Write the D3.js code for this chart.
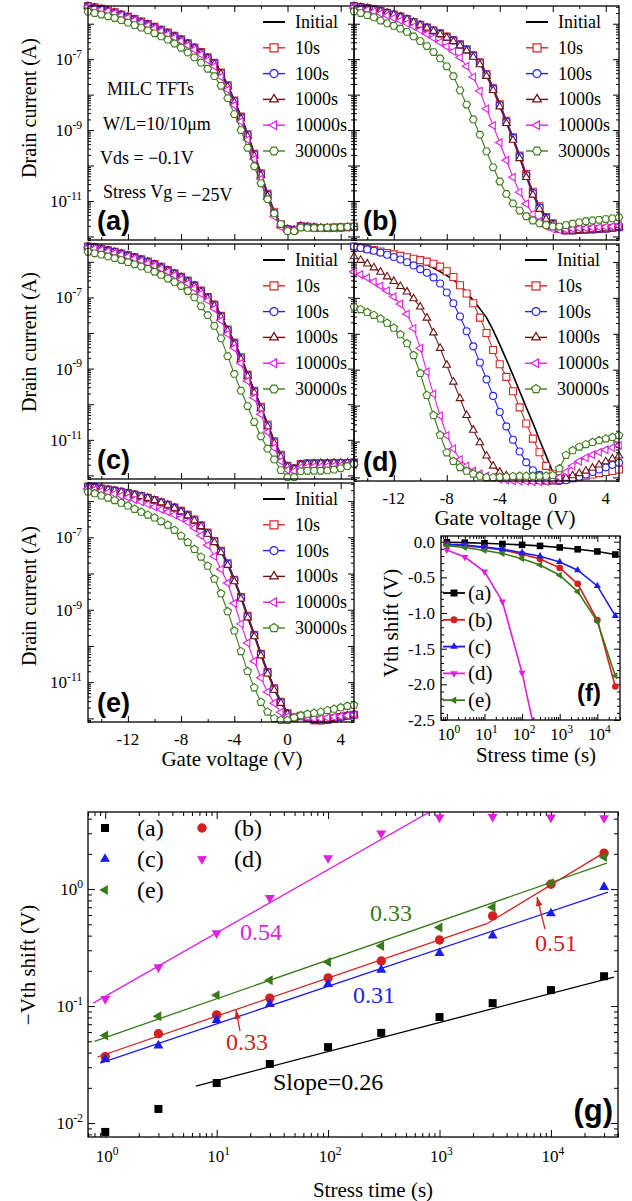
<!DOCTYPE html>
<html>
<head>
<meta charset="utf-8">
<script src="https://cdn.jsdelivr.net/npm/d3@7"></script>
<style>
  body { margin: 0; background: #fff; }
</style>
</head>
<body>
<svg id="fig" width="632" height="1201" font-family='"Liberation Serif","Times New Roman",serif'></svg>
<script>
// gate voltage sweep (V)
const vg = [-15,-14.5,-14,-13.5,-13,-12.5,-12,-11.5,-11,-10.5,-10,-9.5,-9,-8.5,-8,-7.5,-7,-6.5,-6,-5.5,-5,-4.5,-4,-3.5,-3,-2.5,-2,-1.5,-1,-0.5,0,0.5,1,1.5,2,2.5,3,3.5,4,4.5,5];
const legendNames = ['Initial', '10s', '100s', '1000s', '10000s', '30000s'];

// log10(drain current / A)
const a_init = [-5.50,-5.54,-5.58,-5.63,-5.68,-5.74,-5.81,-5.88,-5.95,-6.02,-6.09,-6.17,-6.25,-6.34,-6.44,-6.55,-6.67,-6.80,-6.94,-7.08,-7.36,-7.72,-8.15,-8.60,-9.10,-9.65,-10.20,-10.78,-11.30,-11.65,-11.78,-11.82,-11.70,-11.72,-11.75,-11.76,-11.76,-11.76,-11.75,-11.74,-11.73];
const a_10 = [-5.50,-5.54,-5.58,-5.63,-5.68,-5.74,-5.80,-5.87,-5.94,-6.01,-6.09,-6.17,-6.25,-6.34,-6.44,-6.55,-6.67,-6.80,-6.95,-7.10,-7.38,-7.74,-8.17,-8.62,-9.12,-9.67,-10.22,-10.80,-11.32,-11.66,-11.79,-11.82,-11.71,-11.73,-11.75,-11.76,-11.76,-11.75,-11.75,-11.74,-11.73];
const a_100 = [-5.51,-5.55,-5.59,-5.64,-5.69,-5.75,-5.81,-5.88,-5.95,-6.02,-6.10,-6.18,-6.26,-6.35,-6.45,-6.56,-6.68,-6.81,-6.96,-7.11,-7.39,-7.75,-8.18,-8.64,-9.14,-9.69,-10.24,-10.82,-11.34,-11.67,-11.79,-11.82,-11.71,-11.73,-11.75,-11.76,-11.76,-11.76,-11.75,-11.74,-11.73];
const a_1000 = [-5.51,-5.55,-5.59,-5.64,-5.69,-5.75,-5.82,-5.89,-5.96,-6.03,-6.11,-6.19,-6.27,-6.36,-6.46,-6.57,-6.69,-6.83,-6.98,-7.14,-7.42,-7.78,-8.22,-8.68,-9.18,-9.73,-10.28,-10.86,-11.37,-11.69,-11.80,-11.82,-11.71,-11.73,-11.75,-11.76,-11.76,-11.76,-11.75,-11.74,-11.73];
const a_10000 = [-5.52,-5.56,-5.60,-5.65,-5.70,-5.76,-5.83,-5.90,-5.97,-6.05,-6.13,-6.21,-6.30,-6.39,-6.49,-6.61,-6.73,-6.87,-7.03,-7.20,-7.50,-7.86,-8.30,-8.76,-9.27,-9.82,-10.38,-10.95,-11.44,-11.73,-11.82,-11.82,-11.72,-11.73,-11.75,-11.76,-11.76,-11.76,-11.75,-11.74,-11.73];
const a_30000 = [-5.66,-5.70,-5.74,-5.79,-5.84,-5.90,-5.97,-6.04,-6.11,-6.19,-6.27,-6.36,-6.45,-6.56,-6.68,-6.81,-6.95,-7.10,-7.27,-7.48,-7.75,-8.10,-8.55,-9.00,-9.50,-10.02,-10.50,-10.95,-11.35,-11.65,-11.85,-11.85,-11.75,-11.76,-11.76,-11.76,-11.75,-11.75,-11.74,-11.73,-11.72];

const b_init = [-5.50,-5.53,-5.56,-5.60,-5.64,-5.69,-5.74,-5.80,-5.87,-5.95,-6.03,-6.11,-6.19,-6.27,-6.36,-6.45,-6.57,-6.71,-6.88,-7.08,-7.40,-7.80,-8.26,-8.74,-9.20,-9.72,-10.25,-10.75,-11.15,-11.45,-11.62,-11.78,-11.82,-11.82,-11.82,-11.81,-11.80,-11.79,-11.78,-11.76,-11.74];
const b_10 = [-5.50,-5.53,-5.56,-5.60,-5.64,-5.69,-5.74,-5.80,-5.87,-5.95,-6.03,-6.11,-6.19,-6.27,-6.36,-6.46,-6.58,-6.72,-6.89,-7.09,-7.42,-7.82,-8.27,-8.74,-9.20,-9.72,-10.24,-10.74,-11.15,-11.45,-11.63,-11.78,-11.83,-11.83,-11.82,-11.81,-11.80,-11.79,-11.78,-11.76,-11.74];
const b_100 = [-5.50,-5.53,-5.56,-5.60,-5.64,-5.69,-5.74,-5.80,-5.87,-5.95,-6.03,-6.11,-6.19,-6.28,-6.37,-6.47,-6.59,-6.73,-6.90,-7.10,-7.43,-7.83,-8.29,-8.76,-9.22,-9.74,-10.27,-10.77,-11.18,-11.47,-11.64,-11.79,-11.83,-11.83,-11.82,-11.81,-11.80,-11.79,-11.78,-11.76,-11.74];
const b_1000 = [-5.51,-5.54,-5.57,-5.61,-5.65,-5.70,-5.75,-5.81,-5.88,-5.96,-6.04,-6.12,-6.21,-6.30,-6.40,-6.50,-6.62,-6.76,-6.94,-7.15,-7.48,-7.88,-8.34,-8.81,-9.28,-9.80,-10.33,-10.83,-11.23,-11.51,-11.67,-11.80,-11.84,-11.84,-11.83,-11.82,-11.81,-11.80,-11.78,-11.76,-11.74];
const b_10000 = [-5.53,-5.57,-5.61,-5.66,-5.71,-5.77,-5.84,-5.91,-5.99,-6.08,-6.18,-6.29,-6.40,-6.52,-6.64,-6.78,-6.95,-7.20,-7.50,-7.90,-8.40,-8.87,-9.35,-9.85,-10.33,-10.75,-11.08,-11.37,-11.57,-11.72,-11.80,-11.82,-11.80,-11.78,-11.77,-11.76,-11.75,-11.74,-11.73,-11.72,-11.70];
const b_30000 = [-5.65,-5.70,-5.76,-5.82,-5.91,-5.99,-6.06,-6.14,-6.23,-6.36,-6.49,-6.63,-6.80,-6.98,-7.20,-7.48,-7.88,-8.28,-8.70,-9.13,-9.60,-10.05,-10.45,-10.80,-11.07,-11.27,-11.43,-11.55,-11.63,-11.68,-11.72,-11.72,-11.68,-11.64,-11.60,-11.57,-11.55,-11.53,-11.51,-11.49,-11.46];

const c_init = [-5.57,-5.60,-5.64,-5.68,-5.72,-5.77,-5.82,-5.87,-5.93,-5.99,-6.06,-6.14,-6.23,-6.32,-6.42,-6.53,-6.65,-6.80,-6.98,-7.18,-7.50,-7.88,-8.25,-8.65,-9.15,-9.60,-10.05,-10.55,-11.02,-11.40,-11.72,-11.80,-11.68,-11.66,-11.66,-11.66,-11.66,-11.65,-11.65,-11.65,-11.64];
const c_10 = [-5.57,-5.60,-5.64,-5.68,-5.72,-5.77,-5.82,-5.87,-5.93,-5.99,-6.06,-6.14,-6.23,-6.32,-6.42,-6.53,-6.66,-6.81,-6.99,-7.20,-7.52,-7.90,-8.27,-8.68,-9.17,-9.62,-10.07,-10.57,-11.04,-11.42,-11.73,-11.80,-11.68,-11.66,-11.66,-11.66,-11.66,-11.65,-11.65,-11.65,-11.64];
const c_100 = [-5.57,-5.60,-5.64,-5.68,-5.72,-5.77,-5.82,-5.88,-5.94,-6.00,-6.07,-6.15,-6.24,-6.33,-6.43,-6.54,-6.67,-6.82,-7.00,-7.21,-7.53,-7.91,-8.29,-8.70,-9.19,-9.64,-10.09,-10.59,-11.06,-11.44,-11.74,-11.81,-11.69,-11.67,-11.66,-11.66,-11.66,-11.65,-11.65,-11.65,-11.64];
const c_1000 = [-5.58,-5.61,-5.65,-5.69,-5.73,-5.78,-5.83,-5.89,-5.95,-6.01,-6.08,-6.16,-6.25,-6.34,-6.44,-6.56,-6.69,-6.84,-7.03,-7.24,-7.56,-7.94,-8.32,-8.74,-9.22,-9.68,-10.13,-10.63,-11.10,-11.48,-11.76,-11.82,-11.70,-11.68,-11.67,-11.66,-11.66,-11.65,-11.65,-11.65,-11.64];
const c_10000 = [-5.60,-5.63,-5.67,-5.71,-5.75,-5.80,-5.85,-5.91,-5.97,-6.04,-6.11,-6.19,-6.28,-6.38,-6.49,-6.61,-6.74,-6.90,-7.09,-7.32,-7.65,-8.03,-8.42,-8.85,-9.35,-9.82,-10.28,-10.78,-11.22,-11.60,-11.85,-11.88,-11.78,-11.76,-11.75,-11.75,-11.74,-11.73,-11.72,-11.71,-11.70];
const c_30000 = [-5.72,-5.76,-5.80,-5.85,-5.90,-5.95,-6.01,-6.07,-6.13,-6.20,-6.28,-6.37,-6.47,-6.57,-6.68,-6.82,-7.00,-7.25,-7.50,-7.80,-8.15,-8.65,-9.15,-9.62,-10.05,-10.50,-10.90,-11.25,-11.55,-11.85,-12.05,-12.05,-11.88,-11.87,-11.87,-11.87,-11.86,-11.84,-11.80,-11.74,-11.68];

const d_init = [-5.57,-5.60,-5.64,-5.68,-5.72,-5.77,-5.82,-5.86,-5.90,-5.94,-6.00,-6.08,-6.17,-6.27,-6.38,-6.50,-6.64,-6.85,-7.07,-7.30,-7.55,-7.90,-8.30,-8.72,-9.15,-9.60,-10.05,-10.48,-10.95,-11.40,-11.85,-12.03,-12.05,-12.02,-11.98,-11.96,-11.94,-11.92,-11.90,-11.88,-11.86];
const d_10 = [-5.57,-5.60,-5.63,-5.67,-5.71,-5.75,-5.79,-5.83,-5.87,-5.91,-5.95,-5.99,-6.05,-6.13,-6.26,-6.42,-6.65,-6.88,-7.15,-7.55,-7.98,-8.45,-8.85,-9.20,-9.60,-10.05,-10.50,-10.92,-11.30,-11.68,-11.90,-12.02,-12.05,-12.02,-11.98,-11.95,-11.92,-11.88,-11.85,-11.82,-11.78];
const d_100 = [-5.57,-5.61,-5.65,-5.69,-5.74,-5.80,-5.86,-5.93,-6.01,-6.10,-6.20,-6.30,-6.43,-6.60,-6.85,-7.15,-7.52,-7.93,-8.35,-8.80,-9.27,-9.73,-10.18,-10.58,-10.95,-11.28,-11.58,-11.80,-11.93,-12.00,-12.06,-12.10,-12.08,-12.02,-11.98,-11.92,-11.85,-11.78,-11.72,-11.65,-11.59];
const d_1000 = [-5.85,-5.95,-6.05,-6.16,-6.28,-6.41,-6.54,-6.68,-6.83,-7.02,-7.25,-7.56,-7.97,-8.40,-8.87,-9.34,-9.80,-10.27,-10.68,-11.03,-11.40,-11.68,-11.85,-11.95,-12.00,-12.05,-12.08,-12.10,-12.11,-12.12,-12.12,-12.10,-12.02,-11.95,-11.89,-11.82,-11.74,-11.65,-11.56,-11.48,-11.40];
const d_10000 = [-6.27,-6.35,-6.44,-6.55,-6.67,-6.80,-6.97,-7.17,-7.45,-7.85,-8.40,-9.06,-9.68,-10.28,-10.83,-11.20,-11.50,-11.68,-11.82,-11.90,-11.96,-12.00,-12.05,-12.07,-12.09,-12.10,-12.11,-12.12,-12.12,-12.11,-12.08,-12.00,-11.85,-11.68,-11.55,-11.45,-11.37,-11.30,-11.23,-11.17,-11.11];
const d_30000 = [-7.25,-7.32,-7.40,-7.48,-7.58,-7.70,-7.84,-8.02,-8.27,-8.60,-9.10,-9.71,-10.27,-10.82,-11.31,-11.55,-11.72,-11.82,-11.90,-11.96,-12.00,-12.00,-11.99,-11.98,-11.97,-11.96,-11.96,-11.96,-11.96,-11.96,-11.94,-11.75,-11.38,-11.25,-11.15,-11.08,-11.02,-10.97,-10.92,-10.88,-10.83];

const e_init = [-5.60,-5.62,-5.65,-5.68,-5.71,-5.74,-5.78,-5.82,-5.86,-5.91,-5.97,-6.03,-6.10,-6.18,-6.27,-6.38,-6.50,-6.66,-6.86,-7.08,-7.35,-7.70,-8.15,-8.63,-9.15,-9.67,-10.20,-10.70,-11.15,-11.52,-11.85,-11.98,-11.92,-11.98,-12.05,-12.06,-12.04,-12.00,-11.96,-11.93,-11.90];
const e_10 = [-5.60,-5.62,-5.65,-5.68,-5.71,-5.74,-5.78,-5.82,-5.86,-5.91,-5.97,-6.03,-6.10,-6.18,-6.27,-6.38,-6.51,-6.67,-6.87,-7.10,-7.37,-7.72,-8.17,-8.65,-9.17,-9.69,-10.22,-10.72,-11.17,-11.54,-11.86,-11.98,-11.93,-11.99,-12.05,-12.06,-12.04,-12.00,-11.96,-11.93,-11.90];
const e_100 = [-5.60,-5.62,-5.65,-5.68,-5.71,-5.74,-5.78,-5.82,-5.86,-5.91,-5.97,-6.03,-6.10,-6.18,-6.28,-6.39,-6.52,-6.68,-6.88,-7.11,-7.38,-7.73,-8.18,-8.66,-9.18,-9.70,-10.23,-10.73,-11.18,-11.55,-11.87,-11.99,-11.94,-11.99,-12.05,-12.06,-12.04,-12.00,-11.96,-11.93,-11.90];
const e_1000 = [-5.61,-5.63,-5.66,-5.69,-5.72,-5.75,-5.79,-5.83,-5.87,-5.92,-5.98,-6.04,-6.11,-6.19,-6.29,-6.40,-6.54,-6.70,-6.91,-7.14,-7.42,-7.77,-8.22,-8.70,-9.22,-9.74,-10.27,-10.77,-11.22,-11.58,-11.88,-11.99,-11.94,-11.99,-12.05,-12.06,-12.04,-12.00,-11.96,-11.93,-11.90];
const e_10000 = [-5.65,-5.68,-5.72,-5.76,-5.80,-5.85,-5.90,-5.96,-6.02,-6.09,-6.16,-6.23,-6.30,-6.38,-6.47,-6.58,-6.74,-6.95,-7.22,-7.52,-7.88,-8.26,-8.82,-9.39,-9.92,-10.42,-10.88,-11.27,-11.58,-11.83,-11.95,-11.98,-11.95,-11.97,-12.00,-12.00,-11.98,-11.96,-11.94,-11.92,-11.90];
const e_30000 = [-5.74,-5.79,-5.85,-5.91,-5.98,-6.05,-6.13,-6.22,-6.30,-6.38,-6.46,-6.56,-6.66,-6.80,-6.96,-7.14,-7.33,-7.54,-7.79,-8.15,-8.55,-9.05,-9.58,-10.15,-10.70,-11.15,-11.55,-11.82,-12.00,-12.05,-12.05,-11.98,-11.92,-11.88,-11.85,-11.82,-11.78,-11.74,-11.70,-11.66,-11.63];

// threshold voltage shift magnitude (V) vs stress time (s)
const times = [1, 3, 10, 30, 100, 300, 1000, 3000, 10000, 30000];
const dvA = [0.0084, 0.0132, 0.022, 0.032, 0.0446, 0.059, 0.0805, 0.106, 0.137, 0.18];
const dvB = [0.037, 0.058, 0.084, 0.117, 0.174, 0.243, 0.367, 0.59, 1.10, 2.03];
const dvC = [0.035, 0.046, 0.076, 0.104, 0.154, 0.204, 0.284, 0.40, 0.62, 1.04];
const dvD = [0.115, 0.215, 0.42, 0.84, 1.84, 3.0, 4.1, 4.15, 4.1, 4.05];
const dvE = [0.056, 0.082, 0.124, 0.166, 0.238, 0.326, 0.47, 0.70, 1.12, 1.88];
const groupNames = ['(a)', '(b)', '(c)', '(d)', '(e)'];

// power-law fit lines in (g): [time, -dVth] end points
const fitA = [[6.5, 0.0207], [36700, 0.177]];
const fitB1 = [[0.85, 0.0367], [2700, 0.51]];
const fitB2 = [[2700, 0.51], [30000, 2.05]];
const fitC = [[0.9, 0.0326], [32500, 0.94]];
const fitD = [[0.78, 0.106], [1000, 5.1]];
const fitE = [[0.8, 0.050], [31700, 1.67]];

const SANS = '"Liberation Sans",Arial,sans-serif';
const svg = d3.select('#fig');

const curveCols = ['#000000', '#d42a2a', '#2424f2', '#6e1212', '#e41ee4', '#3f7d1d'];
const dotCols = ['#000000', '#d42020', '#1c1cf0', '#e01ee0', '#3a7a1a'];

function shapePath(type, r) {
  const poly = (n, a0, rr) => d3.range(n).map(k => [rr * Math.cos(a0 + 2 * Math.PI * k / n), rr * Math.sin(a0 + 2 * Math.PI * k / n)]);
  const p = pts => 'M' + pts.map(q => q[0].toFixed(2) + ',' + q[1].toFixed(2)).join('L') + 'Z';
  switch (type) {
    case 'square': return p([[-r, -r], [r, -r], [r, r], [-r, r]]);
    case 'circle': return d3.symbol(d3.symbolCircle, Math.PI * r * r)();
    case 'up': return p(poly(3, -Math.PI / 2, r * 1.25));
    case 'down': return p(poly(3, Math.PI / 2, r * 1.25));
    case 'left': return p(poly(3, Math.PI, r * 1.25));
    case 'hex': return p(poly(6, 0, r * 1.1));
    case 'pent': return p(poly(5, -Math.PI / 2, r * 1.15));
  }
}

function ticks(g, scale, side, pos, values, len) {
  const ax = { left: d3.axisLeft, right: d3.axisRight, top: d3.axisTop, bottom: d3.axisBottom }[side](scale)
    .tickValues(values).tickSize(-len).tickFormat('');
  const tr = (side === 'left' || side === 'right') ? `translate(${pos},0)` : `translate(0,${pos})`;
  g.append('g').attr('transform', tr).call(ax)
    .call(s => s.select('.domain').remove())
    .selectAll('line').attr('stroke', '#000').attr('stroke-width', 1);
}

function logMinors(lo, hi) {
  const out = [];
  for (let e = Math.floor(Math.log10(lo)); e <= Math.ceil(Math.log10(hi)); e++)
    for (let m = 2; m <= 9; m++) {
      const v = m * Math.pow(10, e);
      if (v >= lo && v <= hi) out.push(v);
    }
  return out;
}

function supText(g, x, y, base, sup, size, anchor) {
  const t = g.append('text').attr('x', x).attr('y', y).attr('font-size', size).attr('text-anchor', anchor);
  t.append('tspan').text(base);
  t.append('tspan').attr('dy', -size * 0.42).attr('font-size', size * 0.68).text(sup);
  return t;
}

function frame(g, b) {
  g.append('rect').attr('x', b.x0).attr('y', b.y0).attr('width', b.x1 - b.x0).attr('height', b.y1 - b.y0)
    .attr('fill', 'none').attr('stroke', '#000').attr('stroke-width', 1.3);
}

function panelLabel(g, x, y, txt, size, anchor) {
  g.append('text').attr('x', x).attr('y', y).attr('text-anchor', anchor || 'start').attr('font-family', SANS)
    .attr('font-weight', 'bold').attr('font-size', size).text(txt);
}

// ---------- transfer curve panels (a)-(e) ----------
function transfer(box, data, o) {
  const g = svg.append('g');
  const x = d3.scaleLinear().domain([-15, 5]).range([box.x0, box.x1]);
  const y = d3.scaleLog().domain([Math.pow(10, -12.1), Math.pow(10, -5.5)]).range([box.y1, box.y0]);
  const yMaj = [-12, -11, -10, -9, -8, -7, -6].map(e => Math.pow(10, e));
  const yMin = logMinors(Math.pow(10, -12.1), Math.pow(10, -5.5));
  const xMaj = [-12, -8, -4, 0, 4], xMin = [-14, -10, -6, -2, 2];

  ticks(g, x, 'bottom', box.y1, xMaj, 6); ticks(g, x, 'bottom', box.y1, xMin, 3);
  ticks(g, x, 'top', box.y0, xMaj, 6); ticks(g, x, 'top', box.y0, xMin, 3);
  ticks(g, y, 'left', box.x0, yMaj, 6); ticks(g, y, 'left', box.x0, yMin, 3);
  ticks(g, y, 'right', box.x1, yMaj, 6); ticks(g, y, 'right', box.x1, yMin, 3);

  const shapes = [null, 'square', 'circle', 'up', 'left', o.last];
  data.forEach((vals, k) => {
    const pts = vg.map((v, i) => [x(v), y(Math.pow(10, vals[i]))]);
    g.append('path').attr('d', d3.line()(pts)).attr('fill', 'none')
      .attr('stroke', curveCols[k]).attr('stroke-width', k === 0 ? 1.6 : 1.1);
    if (shapes[k]) {
      g.append('g').selectAll('path').data(pts).enter().append('path')
        .attr('transform', d => `translate(${d[0].toFixed(2)},${d[1].toFixed(2)})`)
        .attr('d', shapePath(shapes[k], 3.5))
        .attr('fill', '#fff').attr('stroke', curveCols[k]).attr('stroke-width', 1.1);
    }
  });

  // legend
  legendNames.forEach((name, k) => {
    const ly = box.y0 + 16 + 25.8 * k;
    g.append('line').attr('x1', o.lx).attr('x2', o.lx + 22).attr('y1', ly).attr('y2', ly)
      .attr('stroke', curveCols[k]).attr('stroke-width', k === 0 ? 2 : 1.4);
    if (shapes[k]) g.append('path').attr('transform', `translate(${o.lx + 11},${ly})`)
      .attr('d', shapePath(shapes[k], 4)).attr('fill', '#fff').attr('stroke', curveCols[k]).attr('stroke-width', 1.2);
    g.append('text').attr('x', o.lx + 32).attr('y', ly + 6).attr('font-size', 18).text(name);
  });

  if (o.ylab) {
    [-7, -9, -11].forEach(e => supText(g, box.x0 - 6, y(Math.pow(10, e)) + 6, '10', String(e), 17, 'end'));
    g.append('text').attr('transform', `translate(${box.x0 - 52},${o.ytitleY}) rotate(-90)`)
      .attr('text-anchor', 'middle').attr('font-size', 20).text('Drain current (A)');
  }
  if (o.xlab) {
    xMaj.forEach(v => g.append('text').attr('x', x(v)).attr('y', box.y1 + 23).attr('text-anchor', 'middle')
      .attr('font-size', 17).text(String(v)));
    g.append('text').attr('x', o.xtitleX).attr('y', box.y1 + 44).attr('text-anchor', 'middle')
      .attr('font-size', 21).text('Gate voltage (V)');
  }
  panelLabel(g, box.x0 + 9, box.y1 - 10, o.label, 27);
  frame(g, box);
  return g;
}

const gA = transfer({ x0: 88, x1: 354, y0: 6, y1: 240 }, [a_init, a_10, a_100, a_1000, a_10000, a_30000],
  { label: '(a)', last: 'hex', lx: 263, ylab: true, ytitleY: 108 });
transfer({ x0: 354, x1: 619, y0: 6, y1: 240 }, [b_init, b_10, b_100, b_1000, b_10000, b_30000],
  { label: '(b)', last: 'hex', lx: 526 });
transfer({ x0: 88, x1: 354, y0: 244, y1: 479 }, [c_init, c_10, c_100, c_1000, c_10000, c_30000],
  { label: '(c)', last: 'hex', lx: 263, ylab: true, ytitleY: 342 });
transfer({ x0: 354, x1: 619, y0: 244, y1: 481 }, [d_init, d_10, d_100, d_1000, d_10000, d_30000],
  { label: '(d)', last: 'pent', lx: 525, xlab: true, xtitleX: 505 });
transfer({ x0: 88, x1: 354, y0: 483, y1: 722 }, [e_init, e_10, e_100, e_1000, e_10000, e_30000],
  { label: '(e)', last: 'pent', lx: 263, ylab: true, xlab: true, ytitleY: 596, xtitleX: 232 });

// measurement conditions in (a)
const notes = [['MILC TFTs', 107, 95], ['W/L=10/10\u03bcm', 103, 130], ['Vds = \u22120.1V', 100, 164]];
notes.forEach(n => gA.append('text').attr('x', n[1]).attr('y', n[2]).attr('font-size', 18).text(n[0]));
const stressTxt = gA.append('text').attr('x', 103).attr('y', 198).attr('font-size', 18);
stressTxt.append('tspan').text('Stress Vg');
stressTxt.append('tspan').attr('dy', 3).text(' = \u221225V');

// ---------- (f) linear shift vs log time ----------
const dvSets = [dvA, dvB, dvC, dvD, dvE];
const dotShapes = ['square', 'circle', 'up', 'down', 'left'];
{
  const box = { x0: 441, x1: 620, y0: 536, y1: 720 };
  const g = svg.append('g');
  const x = d3.scaleLog().domain([0.7, 40000]).range([box.x0, box.x1]);
  const y = d3.scaleLinear().domain([-2.5, 0.08]).range([box.y1, box.y0]);
  svg.append('clipPath').attr('id', 'clipF').append('rect')
    .attr('x', box.x0).attr('y', box.y0).attr('width', box.x1 - box.x0).attr('height', box.y1 - box.y0);
  const xMaj = [1, 10, 100, 1000, 10000], xMin = logMinors(0.7, 40000);
  const yMaj = [0, -0.5, -1, -1.5, -2, -2.5];
  const yMin = d3.range(1, 25).map(k => -k / 10).filter(v => Math.abs(v * 2 - Math.round(v * 2)) > 1e-6);
  ticks(g, x, 'bottom', box.y1, xMaj, 6); ticks(g, x, 'bottom', box.y1, xMin, 3);
  ticks(g, x, 'top', box.y0, xMaj, 6); ticks(g, x, 'top', box.y0, xMin, 3);
  ticks(g, y, 'left', box.x0, yMaj, 6); ticks(g, y, 'left', box.x0, yMin, 3);
  ticks(g, y, 'right', box.x1, yMaj, 6); ticks(g, y, 'right', box.x1, yMin, 3);

  const pg = g.append('g').attr('clip-path', 'url(#clipF)');
  dvSets.forEach((dv, k) => {
    const pts = times.map((t, i) => [x(t), y(-dv[i])]);
    pg.append('path').attr('d', d3.line()(pts)).attr('fill', 'none').attr('stroke', dotCols[k]).attr('stroke-width', 1.6);
    pg.append('g').selectAll('path').data(pts).enter().append('path')
      .attr('transform', d => `translate(${d[0].toFixed(2)},${d[1].toFixed(2)})`)
      .attr('d', shapePath(dotShapes[k], 3.3)).attr('fill', dotCols[k]);
  });
  groupNames.forEach((name, k) => {
    const ly = 593 + 26.8 * k;
    g.append('line').attr('x1', 443).attr('x2', 465).attr('y1', ly).attr('y2', ly).attr('stroke', dotCols[k]).attr('stroke-width', 1.8);
    g.append('path').attr('transform', `translate(454,${ly})`).attr('d', shapePath(dotShapes[k], 3.5)).attr('fill', dotCols[k]);
    g.append('text').attr('x', 468).attr('y', ly + 7).attr('font-size', 21).text(name);
  });
  yMaj.forEach(v => g.append('text').attr('x', box.x0 - 6).attr('y', y(v) + 6).attr('text-anchor', 'end')
    .attr('font-size', 17).text(v === 0 ? '0.0' : v.toFixed(1)));
  xMaj.forEach(v => supText(g, x(v) + 2, box.y1 + 20, '10', String(Math.round(Math.log10(v))), 17, 'middle'));
  g.append('text').attr('x', 536).attr('y', 762).attr('text-anchor', 'middle').attr('font-size', 21).text('Stress time (s)');
  g.append('text').attr('transform', `translate(398,623) rotate(-90)`).attr('text-anchor', 'middle')
    .attr('font-size', 21).text('Vth shift (V)');
  panelLabel(g, 601, 701, '(f)', 24, 'end');
  frame(g, box);
}

// ---------- (g) log-log shift vs time ----------
{
  const box = { x0: 88, x1: 618, y0: 812, y1: 1137 };
  const g = svg.append('g');
  const x = d3.scaleLog().domain([0.7, 40000]).range([box.x0, box.x1]);
  const y = d3.scaleLog().domain([0.0076, 4.56]).range([box.y1, box.y0]);
  svg.append('clipPath').attr('id', 'clipG').append('rect')
    .attr('x', box.x0).attr('y', box.y0).attr('width', box.x1 - box.x0).attr('height', box.y1 - box.y0);
  const xMaj = [1, 10, 100, 1000, 10000], xMin = logMinors(0.7, 40000);
  const yMaj = [0.01, 0.1, 1], yMin = logMinors(0.0076, 4.56);
  ticks(g, x, 'bottom', box.y1, xMaj, 7); ticks(g, x, 'bottom', box.y1, xMin, 4);
  ticks(g, x, 'top', box.y0, xMaj, 7); ticks(g, x, 'top', box.y0, xMin, 4);
  ticks(g, y, 'left', box.x0, yMaj, 7); ticks(g, y, 'left', box.x0, yMin, 4);
  ticks(g, y, 'right', box.x1, yMaj, 7); ticks(g, y, 'right', box.x1, yMin, 4);

  const pg = g.append('g').attr('clip-path', 'url(#clipG)');
  const fits = [[fitA, 0], [fitB1, 1], [fitB2, 1], [fitC, 2], [fitD, 3], [fitE, 4]];
  fits.forEach(([f, k]) => pg.append('path').attr('d', d3.line()(f.map(p => [x(p[0]), y(p[1])])))
    .attr('fill', 'none').attr('stroke', dotCols[k]).attr('stroke-width', 1.3));
  const sizes = [4, 4.7, 4.6, 4.6, 4.6];
  dvSets.forEach((dv, k) => {
    pg.append('g').selectAll('path').data(times.map((t, i) => [x(t), y(dv[i])])).enter().append('path')
      .attr('transform', d => `translate(${d[0].toFixed(2)},${d[1].toFixed(2)})`)
      .attr('d', shapePath(dotShapes[k], sizes[k])).attr('fill', dotCols[k]);
  });

  // legend, two columns
  groupNames.forEach((name, k) => {
    const col = k % 2, row = Math.floor(k / 2);
    const mx = col ? 202 : 105, ly = 828 + 31 * row;
    g.append('path').attr('transform', `translate(${mx},${ly})`).attr('d', shapePath(dotShapes[k], sizes[k])).attr('fill', dotCols[k]);
    g.append('text').attr('x', mx + 32).attr('y', ly + 8).attr('font-size', 24).text(name);
  });

  const ann = [['0.54', 240, 940, 3], ['0.33', 370, 921, 4], ['0.31', 353, 1003, 2], ['0.51', 535, 951, 1], ['0.33', 226, 1050, 1], ['Slope=0.26', 273, 1090, 0]];
  ann.forEach(a => g.append('text').attr('x', a[1]).attr('y', a[2]).attr('font-size', 24).attr('fill', dotCols[a[3]]).text(a[0]));
  // arrows
  const arrows = [[545, 929, 537, 897], [240, 1031, 236, 1010]];
  arrows.forEach(([x1, y1, x2, y2]) => {
    g.append('line').attr('x1', x1).attr('y1', y1).attr('x2', x2).attr('y2', y2).attr('stroke', dotCols[1]).attr('stroke-width', 1.3);
    const ang = Math.atan2(y2 - y1, x2 - x1);
    const L = 9, W = 3.2;
    const bx = x2 - L * Math.cos(ang), by = y2 - L * Math.sin(ang);
    g.append('path').attr('d', `M${x2},${y2}L${bx + W * Math.sin(ang)},${by - W * Math.cos(ang)}L${bx - W * Math.sin(ang)},${by + W * Math.cos(ang)}Z`)
      .attr('fill', dotCols[1]);
  });

  yMaj.forEach(v => supText(g, box.x0 - 5, y(v) + 6, '10', String(Math.round(Math.log10(v))), 17, 'end'));
  xMaj.forEach(v => supText(g, x(v) + 2, box.y1 + 25, '10', String(Math.round(Math.log10(v))), 17, 'middle'));
  g.append('text').attr('x', 373).attr('y', 1197).attr('text-anchor', 'middle').attr('font-size', 21).text('Stress time (s)');
  g.append('text').attr('transform', `translate(35,965) rotate(-90)`).attr('text-anchor', 'middle')
    .attr('font-size', 21).text('\u2212Vth shift (V)');
  panelLabel(g, 613, 1121, '(g)', 31, 'end');
  frame(g, box);
}
</script>
</body>
</html>
